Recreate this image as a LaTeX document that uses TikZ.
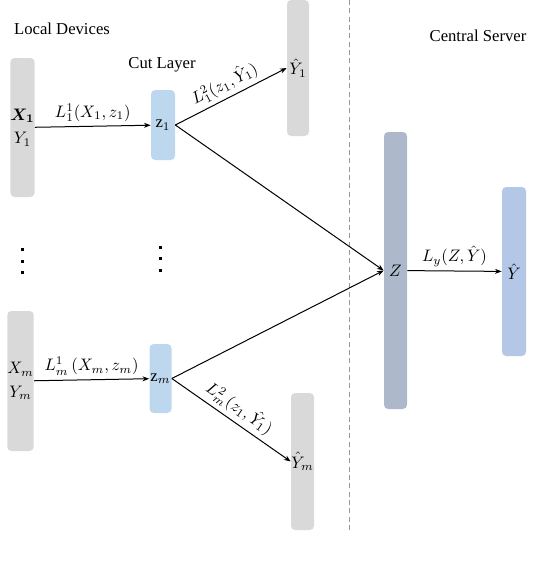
\documentclass[tikz,border=0pt]{standalone}
\usepackage{amsmath}
\usepackage{bm}
\usepackage{fontspec}
\setmainfont{Liberation Serif}
\usetikzlibrary{arrows.meta}

\definecolor{devgray}{HTML}{D9D9D9}
\definecolor{cutblue}{HTML}{BDD7EE}
\definecolor{servgray}{HTML}{ADB9CA}
\definecolor{outblue}{HTML}{B4C7E7}

\begin{document}
\begin{tikzpicture}[x=0.6pt, y=-0.6pt, auto,
    bar/.style ={rectangle, rounded corners=2.5pt, inner sep=0pt, align=center},
    conn/.style ={-{Stealth[length=4pt,width=3pt]}, semithick},
    loss/.style ={inner sep=2.5pt}]
   \useasboundingbox (0,0) rectangle (558,564);

   % titles
   \node (local)   at (62,29)  {Local Devices};
   \node (cut)     at (162,65) {Cut Layer};
   \node (central) at (478,36) {Central Server};

   % bars
   \node[bar, fill=devgray, minimum width=13.8pt, minimum height=83.4pt] (D1) at (22.5,127.5) {$\boldsymbol{X_1}$\\[2pt]$Y_1$};
   \node[bar, fill=cutblue, minimum width=14.4pt, minimum height=42pt] (z1) at (163,125) {$\mathrm{z}_1$};
   \node[bar, fill=devgray, minimum width=13.2pt, minimum height=81.6pt] (Y1) at (298,68) {$\hat{Y}_1$};
   \node[bar, fill=devgray, minimum width=13.8pt, minimum height=84pt] (Dm) at (20.5,381) {$X_m$\\[2pt]$Y_m$};
   \node[bar, fill=cutblue, minimum width=13.2pt, minimum height=41.4pt] (zm) at (160.5,378.5) {$\mathrm{z}_m$};
   \node[bar, fill=devgray, minimum width=13.8pt, minimum height=82.2pt] (Ym) at (302.5,461.5) {$\hat{Y}_m$};
   \node[bar, fill=servgray, minimum width=13.8pt, minimum height=166.2pt] (Z) at (395.5,270.5) {$Z$};
   \node[bar, fill=outblue, minimum width=14.4pt, minimum height=101.4pt] (Y) at (514,271.5) {$\hat{Y}$};

   % split line
   \coordinate (top) at (349,0);
   \coordinate (bot) at (349,530);
   \draw[gray!80, semithick, dash pattern=on 3pt off 2pt] (top) -- (bot);

   % dots
   \foreach \y in {249,261,272}
      \fill (20.5,\y-1.5) rectangle ++(3.5,3.5);
   \foreach \y in {247,258,270}
      \fill (158.5,\y-1.5) rectangle ++(3.5,3.5);

   % connectors
   \draw[conn] (D1) to node[loss] {$L_1^1(X_1,z_1)$} (z1);
   \draw[conn] (z1.east) to node[loss, sloped, above] {$L_1^2(z_1,\hat{Y}_1)$} (Y1.west);
   \draw[conn] (z1.east) to (Z.west);
   \draw[conn] (Dm) to node[loss] {$L_m^1\,(X_m,z_m)$} (zm);
   \draw[conn] (zm.east) to (Z.west);
   \draw[conn] (zm.east) to node[loss, sloped, above] {$L_m^2(z_1,\hat{Y}_1)$} (Ym.west);
   \draw[conn] (Z) to node[loss] {$L_y(Z,\hat{Y})$} (Y);
\end{tikzpicture}
\end{document}
